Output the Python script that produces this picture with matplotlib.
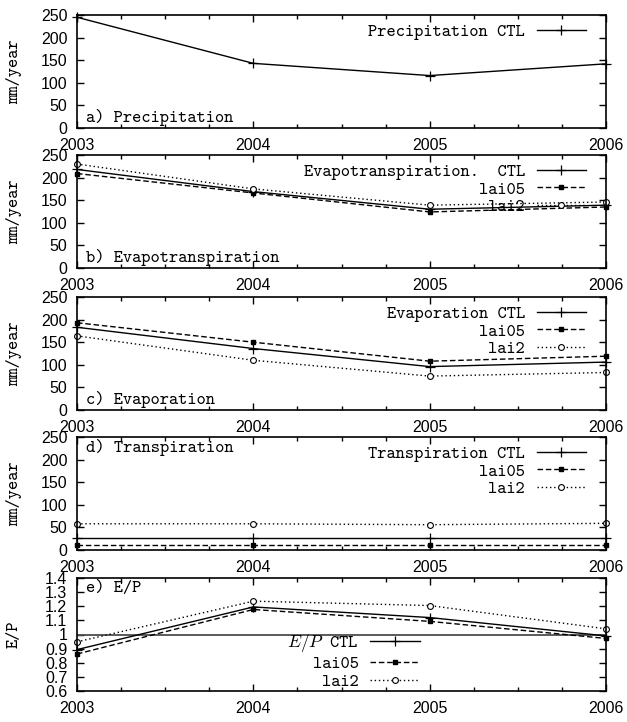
import matplotlib
matplotlib.use("Agg")
import matplotlib.pyplot as plt
from matplotlib.ticker import MultipleLocator

plt.rcParams['mathtext.fontset'] = 'cm'

years = [2003, 2004, 2005, 2006]
year_labels = ['2003', '2004', '2005', '2006']

# a) precipitation
prec_ctl = [245, 143, 116, 142]
# b) evapotranspiration
et_ctl = [218, 169, 130, 139]
et_lai05 = [209, 166, 124, 135]
et_lai2 = [230, 175, 139, 146]
# c) evaporation
ev_ctl = [183, 136, 96, 106]
ev_lai05 = [193, 150, 108, 119]
ev_lai2 = [164, 110, 75, 83]
# d) transpiration
tr_ctl = [27, 27, 27, 27]
tr_lai05 = [11, 11, 11, 11]
tr_lai2 = [58, 58, 56, 59]
# e) E/P
ep_ctl = [0.893, 1.195, 1.12, 0.99]
ep_lai05 = [0.862, 1.177, 1.093, 0.972]
ep_lai2 = [0.948, 1.236, 1.205, 1.04]

mm_ticks = [0, 50, 100, 150, 200, 250]
mm_labels = ['0', '50', '100', '150', '200', '250']
ep_ticks = [0.6, 0.7, 0.8, 0.9, 1.0, 1.1, 1.2, 1.3, 1.4]
ep_labels = ['0.6', '0.7', '0.8', '0.9', '1', '1.1', '1.2', '1.3', '1.4']

TT = 'cmtt10'
TICKF = 'Liberation Sans'
FS = 12.7

W, H = 627, 722
fig = plt.figure(figsize=(W / 100, H / 100), dpi=100)

tops = [15, 155, 297, 437, 578]
ph = 113


def make_ax(top):
    ax = fig.add_axes([77 / W, 1 - (top + ph) / H, 529 / W, ph / H])
    ax.set_xlim(2003, 2006)
    ax.set_xticks(years)
    ax.set_xticklabels(year_labels, fontfamily=TICKF, fontsize=11.5)
    ax.xaxis.set_minor_locator(MultipleLocator(0.25))
    ax.tick_params(which='both', direction='in', top=True, right=True, width=1.0)
    ax.tick_params(which='major', length=5)
    ax.tick_params(which='minor', length=2.7)
    ax.tick_params(axis='x', pad=7)
    ax.tick_params(axis='y', pad=7)
    for s in ax.spines.values():
        s.set_linewidth(1.2)
    return ax


def style_mm(ax):
    ax.set_ylim(0, 250)
    ax.set_yticks(mm_ticks)
    ax.set_yticklabels(mm_labels, fontfamily=TICKF, fontsize=11.5)
    ax.set_ylabel('mm/year', fontfamily=TT, fontsize=FS)
    ax.yaxis.set_label_coords(-0.104, 0.5)


ctl_kw = dict(color='k', lw=1.0, ls='-', marker='+', ms=7, mew=0.9, clip_on=False)
l05_kw = dict(color='k', lw=1.0, ls=(0, (4, 2)), marker='s', ms=3.5, clip_on=False)
l2_kw = dict(color='k', lw=1.0, ls=(0, (1, 2)), marker='o', ms=4.2, mfc='white', mew=0.8,
             clip_on=False)


def add_legend(ax, anchor, loc):
    leg = ax.legend(loc=loc, bbox_to_anchor=anchor, frameon=False, markerfirst=False,
                    prop={'family': TT, 'size': FS}, handlelength=2.8, handletextpad=0.65,
                    labelspacing=0.08, borderpad=0, borderaxespad=0)
    return leg


# a) Precipitation
ax = make_ax(tops[0])
ax.plot(years, prec_ctl, label='Precipitation CTL', **ctl_kw)
style_mm(ax)
ax.text(0.017, 0.097, 'a) Precipitation', transform=ax.transAxes, fontfamily=TT,
        fontsize=FS, va='center', ha='left')
add_legend(ax, (0.962, 0.925), 'upper right')

# b) Evapotranspiration
ax = make_ax(tops[1])
ax.plot(years, et_ctl, label='Evapotranspiration.  CTL', **ctl_kw)
ax.plot(years, et_lai05, label='lai05', **l05_kw)
ax.plot(years, et_lai2, label='lai2', **l2_kw)
style_mm(ax)
ax.text(0.017, 0.097, 'b) Evapotranspiration', transform=ax.transAxes, fontfamily=TT,
        fontsize=FS, va='center', ha='left')
add_legend(ax, (0.962, 0.925), 'upper right')

# c) Evaporation
ax = make_ax(tops[2])
ax.plot(years, ev_ctl, label='Evaporation CTL', **ctl_kw)
ax.plot(years, ev_lai05, label='lai05', **l05_kw)
ax.plot(years, ev_lai2, label='lai2', **l2_kw)
style_mm(ax)
ax.text(0.017, 0.097, 'c) Evaporation', transform=ax.transAxes, fontfamily=TT,
        fontsize=FS, va='center', ha='left')
add_legend(ax, (0.962, 0.925), 'upper right')

# d) Transpiration
ax = make_ax(tops[3])
ax.plot(years, tr_ctl, label='Transpiration CTL', **ctl_kw)
ax.plot(years, tr_lai05, label='lai05', **l05_kw)
ax.plot(years, tr_lai2, label='lai2', **l2_kw)
style_mm(ax)
ax.text(0.017, 0.903, 'd) Transpiration', transform=ax.transAxes, fontfamily=TT,
        fontsize=FS, va='center', ha='left')
add_legend(ax, (0.962, 0.925), 'upper right')

# e) E/P
ax = make_ax(tops[4])
ax.axhline(1.0, color='0.3', lw=1.3)
ax.plot(years, ep_ctl, label='$E/P$ CTL', **ctl_kw)
ax.plot(years, ep_lai05, label='lai05', **l05_kw)
ax.plot(years, ep_lai2, label='lai2', **l2_kw)
ax.set_ylim(0.6, 1.4)
ax.set_yticks(ep_ticks)
ax.set_yticklabels(ep_labels, fontfamily=TICKF, fontsize=11.5)
ax.set_ylabel('E/P', fontfamily=TT, fontsize=FS)
ax.yaxis.set_label_coords(-0.104, 0.5)
ax.text(0.017, 0.903, 'e) E/P', transform=ax.transAxes, fontfamily=TT,
        fontsize=FS, va='center', ha='left')
add_legend(ax, (0.648, 0.265), 'center right')

plt.savefig('out.png', dpi=100)
